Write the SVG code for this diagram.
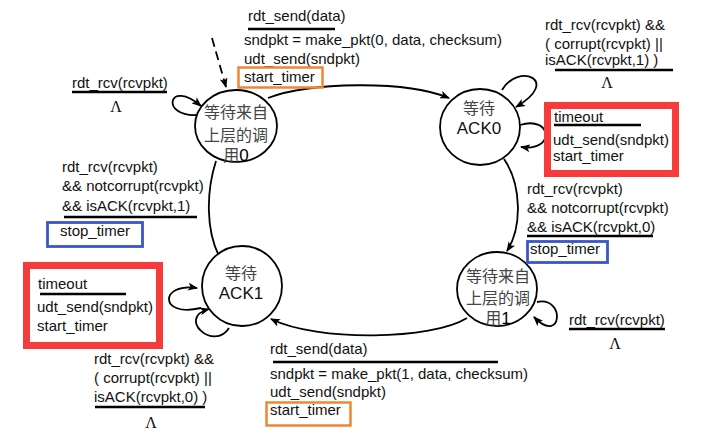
<svg xmlns="http://www.w3.org/2000/svg" width="718" height="442" viewBox="0 0 718 442">
<defs>
<marker id="arr" markerUnits="userSpaceOnUse" markerWidth="10" markerHeight="8" refX="9" refY="4" orient="auto">
<path d="M0,0 L10,4 L0,8 L2.5,4 z" fill="#000"/>
</marker>
<style>
.st{fill:#fff;stroke:#000;stroke-width:1.8}
.cj{font-family:"Noto Sans CJK SC","Noto Sans",sans-serif;font-size:16px;fill:#444;text-anchor:middle}
.an{font-family:"Liberation Sans",Arial,sans-serif;fill:#000}
.ack{font-family:"Liberation Sans",Arial,sans-serif;font-size:17px;fill:#111;text-anchor:middle}
.t{font-family:"Liberation Sans",Arial,sans-serif;font-size:15px;fill:#111}
.lam{font-family:"Liberation Serif","Times New Roman",serif;font-size:16px;fill:#111;text-anchor:middle}
.ul{stroke:#000;stroke-width:2.6}
.e{fill:none;stroke:#000;stroke-width:1.8}
.red{fill:none;stroke:#f53b3b;stroke-width:7}
.org{fill:none;stroke:#ef8636;stroke-width:2.5}
.blu{fill:none;stroke:#3a56c8;stroke-width:2.8}
</style>
</defs>
<rect width="718" height="442" fill="#fff"/>

<g id="connectors">
<path class="e" d="M212 38 L226 87" stroke-dasharray="9,5" stroke-width="2.6" marker-end="url(#arr)"/>
<path class="e" d="M268 98 C310 82 405 80 449 98" marker-end="url(#arr)"/>
<path class="e" d="M197 115 C160 117 168 78 201 106" marker-end="url(#arr)"/>
<path class="e" d="M502 90 C518 62 562 80 516 107" marker-end="url(#arr)"/>
<path class="e" d="M520 125 C552 115 556 152 521 147" marker-end="url(#arr)"/>
<path class="e" d="M504 159 C522 185 522 228 507 251" marker-end="url(#arr)"/>
<path class="e" d="M537 302 C566 296 562 346 534 317" marker-end="url(#arr)"/>
<path class="e" d="M467 318 C432 340 318 342 271 319" marker-end="url(#arr)"/>
<path class="e" d="M201 308 C158 318 160 282 197 288" marker-end="url(#arr)"/>
<path class="e" d="M229 328 C214 352 176 318 209 309" marker-end="url(#arr)"/>
<path class="e" d="M216 161 C206 192 206 230 219 256"/>
</g>

<g id="wait_call0">
<ellipse class="st" cx="236" cy="126" rx="41" ry="36"/>
<text class="cj" x="236" y="118">等待来自</text>
<text class="cj" x="236" y="141">上层的调</text>
<text class="cj" x="236" y="161">用<tspan class="an" font-size="17">0</tspan></text>
</g>

<g id="wait_ack0">
<ellipse class="st" cx="480" cy="127" rx="40" ry="38"/>
<text class="cj" x="479" y="114">等待</text>
<text class="ack" x="479" y="134">ACK0</text>
</g>

<g id="wait_call1">
<ellipse class="st" cx="497" cy="289" rx="40" ry="37"/>
<text class="cj" x="498" y="282">等待来自</text>
<text class="cj" x="498" y="304">上层的调</text>
<text class="cj" x="498" y="324">用<tspan class="an" font-size="17">1</tspan></text>
</g>

<g id="wait_ack1">
<ellipse class="st" cx="242" cy="286" rx="40" ry="40"/>
<text class="cj" x="241" y="279">等待</text>
<text class="ack" x="241" y="299">ACK1</text>
</g>

<g id="labels">
<text class="t" x="248" y="21">rdt_send(data)</text>
<line class="ul" x1="248" y1="29" x2="335" y2="29"/>
<text class="t" x="244" y="45">sndpkt = make_pkt(0, data, checksum)</text>
<text class="t" x="244" y="64">udt_send(sndpkt)</text>
<text class="t" x="244" y="82">start_timer</text>
<rect class="org" x="238.5" y="67.5" width="84" height="20"/>

<text class="t" x="545" y="29.5">rdt_rcv(rcvpkt) &amp;&amp;</text>
<text class="t" x="545" y="49">( corrupt(rcvpkt) ||</text>
<text class="t" x="545" y="65">isACK(rcvpkt,1) )</text>
<line class="ul" x1="555" y1="70" x2="673" y2="70"/>
<text class="lam" x="607" y="88">Λ</text>

<rect class="red" x="547.5" y="105.5" width="128" height="68"/>
<text class="t" x="554" y="122">timeout</text>
<line class="ul" x1="554" y1="125" x2="641" y2="125"/>
<text class="t" x="553" y="145">udt_send(sndpkt)</text>
<text class="t" x="553" y="161">start_timer</text>

<text class="t" x="72" y="88">rdt_rcv(rcvpkt)</text>
<line class="ul" x1="72" y1="92" x2="167" y2="92"/>
<text class="lam" x="116" y="112">Λ</text>

<text class="t" x="62" y="172">rdt_rcv(rcvpkt)</text>
<text class="t" x="62" y="191">&amp;&amp; notcorrupt(rcvpkt)</text>
<text class="t" x="62" y="211">&amp;&amp; isACK(rcvpkt,1)</text>
<line class="ul" x1="64" y1="217" x2="197" y2="217"/>
<rect class="blu" x="47.5" y="222.5" width="95" height="24"/>
<text class="t" x="60" y="236">stop_timer</text>

<text class="t" x="527" y="194">rdt_rcv(rcvpkt)</text>
<text class="t" x="527" y="213">&amp;&amp; notcorrupt(rcvpkt)</text>
<text class="t" x="527" y="232">&amp;&amp; isACK(rcvpkt,0)</text>
<line class="ul" x1="527" y1="236" x2="653" y2="236"/>
<rect class="blu" x="527.5" y="241.5" width="80" height="21"/>
<text class="t" x="530" y="254">stop_timer</text>

<text class="t" x="569" y="325">rdt_rcv(rcvpkt)</text>
<line class="ul" x1="569" y1="329" x2="665" y2="329"/>
<text class="lam" x="615" y="349">Λ</text>

<rect class="red" x="26.5" y="265.5" width="133" height="80"/>
<text class="t" x="38" y="289">timeout</text>
<line class="ul" x1="40" y1="294" x2="126" y2="294"/>
<text class="t" x="37" y="312">udt_send(sndpkt)</text>
<text class="t" x="37" y="331">start_timer</text>

<text class="t" x="94" y="364">rdt_rcv(rcvpkt) &amp;&amp;</text>
<text class="t" x="94" y="383">( corrupt(rcvpkt) ||</text>
<text class="t" x="94" y="402">isACK(rcvpkt,0) )</text>
<line class="ul" x1="95" y1="407" x2="205" y2="407"/>
<text class="lam" x="151" y="428">Λ</text>

<text class="t" x="270" y="354">rdt_send(data)</text>
<line class="ul" x1="273" y1="362" x2="498" y2="362"/>
<text class="t" x="270" y="379">sndpkt = make_pkt(1, data, checksum)</text>
<text class="t" x="270" y="397">udt_send(sndpkt)</text>
<text class="t" x="270" y="415">start_timer</text>
<rect class="org" x="266.5" y="402.5" width="84" height="23"/>
</g>
</svg>
